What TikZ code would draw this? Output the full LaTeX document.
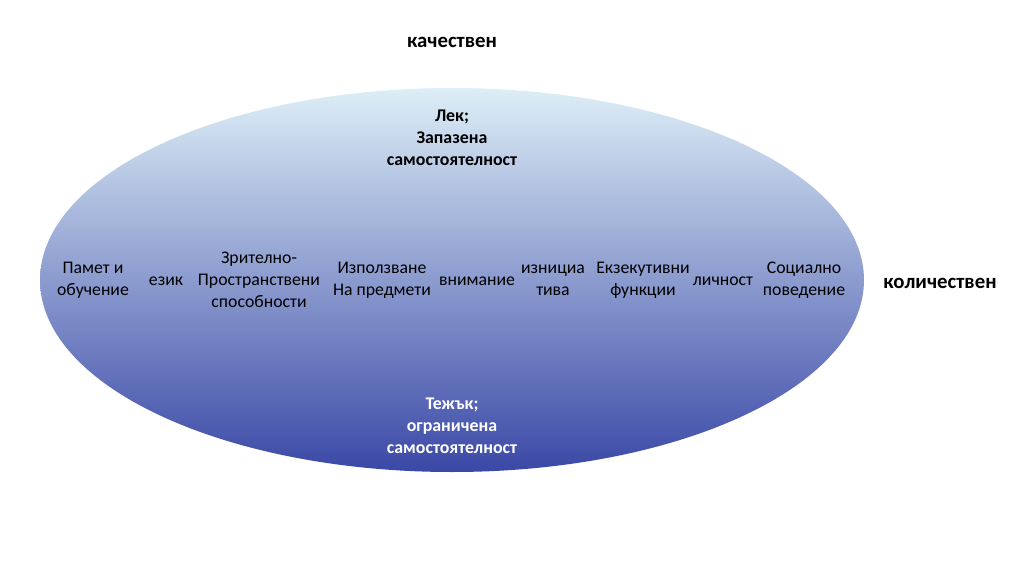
\documentclass[tikz,border=0pt]{standalone}
\usepackage{fontspec}
\setmainfont{Carlito}
\usetikzlibrary{shapes.geometric,positioning}
\definecolor{ovaltop}{HTML}{DDEEF7}
\definecolor{ovalmid}{HTML}{A0AEDC}
\definecolor{ovalbot}{HTML}{3A48A6}
\tikzset{
	item/.style={align=center, font=\fontsize{13.3pt}{16.5pt}\selectfont, inner sep=1pt},
	headtxt/.style={align=center, font=\fontsize{13.4pt}{16.5pt}\selectfont\bfseries, inner sep=1pt},
	axistxt/.style={font=\fontsize{15.6pt}{18pt}\selectfont\bfseries, inner sep=1pt}
}
\begin{document}
\begin{tikzpicture}[x=0.75pt, y=-0.75pt]
		\useasboundingbox (0,0) rectangle (1022,575);
		\node[ellipse, minimum width=618pt, minimum height=288pt, inner sep=0pt,
			top color=ovaltop, middle color=ovalmid, bottom color=ovalbot] (oval) at (452,280) {};
		\node[axistxt] (kach) at (452,42) {качествен};
		\node[axistxt] (kol) at (940,283) {количествен};
		\node[headtxt] (lek) at (452,138) {Лек;\\Запазена\\самостоятелност};
		\node[headtxt, white] (tezhak) at (452,426) {Тежък;\\ограничена\\самостоятелност};
		\node[item] (pamet) at (93,280) {Памет и\\обучение};
		\node[item] (ezik) at (166,281) {език};
		\node[item] (zritelno) at (259,280) {Зрително-\\Пространствени\\способности};
		\node[item] (izpolzv) at (382,280) {Използване\\На предмети};
		\node[item] (vniman) at (477,281) {внимание};
		\node[item] (iznic) at (553,280) {изнициа\\тива};
		\node[item] (ekzek) at (643,280) {Екзекутивни\\функции};
		\node[item] (lichn) at (723,281) {личност};
		\node[item] (social) at (804,280) {Социално\\поведение};
\end{tikzpicture}
\end{document}
